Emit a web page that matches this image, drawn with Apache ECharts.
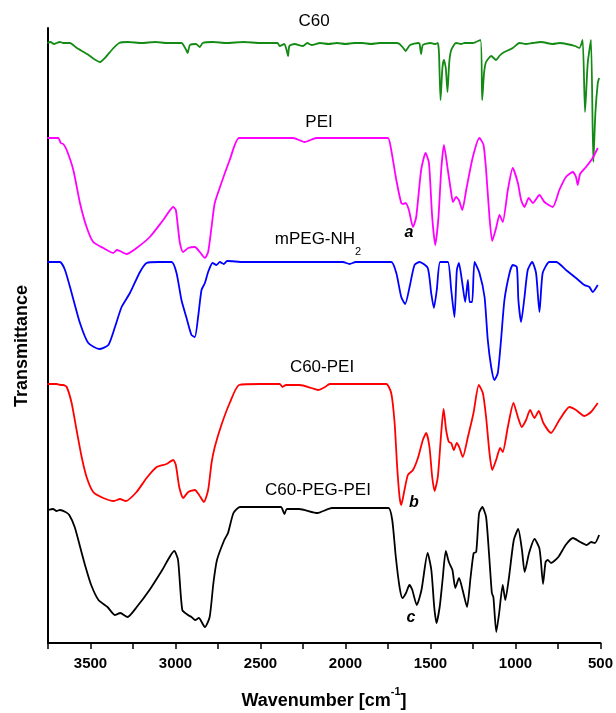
<!DOCTYPE html>
<html>
<head>
<meta charset="utf-8">
<script src="https://cdn.jsdelivr.net/npm/echarts@6/dist/echarts.min.js"></script>
<style>
html,body{margin:0;padding:0;background:#fff;}
#chart{width:616px;height:713px;}
</style>
</head>
<body>
<div id="chart"></div>
<script>
// Wavenumber [cm-1] vs transmittance (arbitrary offset units, spectra stacked)
var c60 = [[3754,600],[3735,601],[3715,599],[3700,600],[3680,601],[3660,600],[3621,600],[3580,595],[3520,589],[3480,584],[3444,581],[3410,586],[3370,594],[3331,600],[3280,601],[3200,600],[3120,601],[3050,600],[2965,600],[2940,594],[2929,590],[2915,598],[2880,599],[2857,596],[2840,600],[2780,601],[2700,600],[2600,601],[2500,600],[2400,600],[2387,597],[2360,599],[2345,592],[2338,587],[2330,597],[2300,599],[2250,597],[2225,600],[2200,598],[2150,600],[2100,599],[2050,600],[2000,599],[1950,600],[1900,600],[1850,599],[1800,600],[1750,600],[1700,600],[1682,599],[1660,595],[1647,592],[1620,598],[1570,600],[1564,599],[1555,589],[1545,598],[1500,600],[1470,599],[1457,600],[1450,590],[1441,543],[1430,575],[1421,583],[1410,575],[1400,551],[1390,580],[1378,593],[1350,600],[1320,599],[1300,600],[1250,600],[1206,603],[1196,543],[1185,570],[1173,581],[1143,587],[1114,583],[1095,587],[1075,590],[1016,595],[977,600],[940,599],[900,600],[850,601],[781,599],[740,600],[700,599],[650,597],[624,595],[605,603],[591,531],[575,580],[556,603],[542,481],[530,530],[516,560],[508,565]];
var pei = [[3754,505],[3700,505],[3689,505],[3675,500],[3660,499],[3640,493],[3601,473],[3562,440],[3523,416],[3484,401],[3425,395],[3366,390],[3345,393],[3327,392],[3288,389],[3229,395],[3151,406],[3072,423],[3013,436],[2998,433],[2985,415],[2974,400],[2955,391],[2925,395],[2886,396],[2857,391],[2827,385],[2808,391],[2788,416],[2769,440],[2730,460],[2681,483],[2626,505],[2500,505],[2400,505],[2308,505],[2240,501],[2171,505],[2000,505],[1800,505],[1750,505],[1731,493],[1701,463],[1672,440],[1660,439],[1647,440],[1627,433],[1603,416],[1584,426],[1555,473],[1529,490],[1509,480],[1490,426],[1472,398],[1453,426],[1437,473],[1421,498],[1398,473],[1378,450],[1368,441],[1349,446],[1333,443],[1313,433],[1290,453],[1251,486],[1212,505],[1188,498],[1173,473],[1153,426],[1137,402],[1114,415],[1094,428],[1075,421],[1045,453],[1016,475],[986,460],[967,443],[947,436],[922,445],[898,440],[859,448],[830,441],[781,436],[742,453],[703,466],[663,471],[644,466],[634,458],[620,469],[585,476],[546,485],[516,495]];
var mpeg = [[3754,381],[3680,381],[3650,373],[3611,350],[3562,320],[3513,300],[3448,294],[3395,298],[3356,316],[3317,336],[3268,350],[3209,371],[3170,380],[3100,381],[3023,381],[2994,370],[2965,343],[2935,325],[2906,308],[2886,306],[2867,326],[2847,353],[2827,360],[2808,371],[2782,380],[2759,378],[2739,381],[2716,379],[2696,382],[2600,381],[2400,381],[2015,381],[1976,379],[1940,381],[1731,381],[1701,370],[1672,346],[1649,339],[1623,356],[1594,378],[1564,381],[1516,375],[1496,350],[1480,335],[1463,353],[1443,381],[1398,381],[1378,353],[1359,326],[1345,373],[1333,380],[1313,360],[1296,341],[1280,363],[1270,341],[1255,341],[1241,381],[1212,370],[1182,346],[1163,303],[1143,276],[1124,263],[1104,270],[1085,303],[1065,343],[1035,370],[1016,378],[992,376],[983,343],[967,321],[947,346],[928,373],[902,381],[879,370],[859,331],[840,370],[801,381],[761,381],[703,373],[644,365],[595,358],[565,356],[546,351],[516,358]];
var c60pei = [[3754,259],[3700,259],[3670,258],[3660,258],[3640,256],[3611,240],[3582,213],[3552,186],[3523,166],[3484,151],[3425,145],[3362,142],[3327,144],[3292,142],[3229,151],[3170,165],[3111,176],[3053,179],[3013,183],[2998,178],[2978,156],[2955,145],[2925,151],[2886,153],[2861,148],[2833,141],[2808,153],[2788,180],[2769,196],[2730,218],[2681,240],[2626,258],[2500,259],[2387,259],[2371,256],[2350,258],[2269,258],[2200,255],[2161,253],[2120,256],[2093,259],[1900,259],[1760,259],[1731,250],[1711,220],[1696,176],[1682,146],[1672,138],[1653,153],[1633,168],[1603,173],[1574,185],[1545,203],[1525,210],[1506,196],[1490,166],[1476,152],[1457,166],[1437,210],[1423,234],[1408,213],[1392,201],[1378,200],[1363,193],[1345,200],[1329,195],[1310,186],[1280,206],[1247,230],[1216,258],[1192,250],[1173,226],[1153,190],[1137,173],[1114,183],[1090,195],[1075,191],[1045,216],[1012,240],[986,226],[963,216],[938,223],[914,233],[889,225],[863,232],[836,220],[791,210],[742,223],[683,236],[644,233],[595,227],[556,231],[516,240]];
var c60pegpei = [[3750,133],[3720,134],[3700,132],[3680,133],[3647,131],[3625,128],[3593,116],[3561,96],[3529,76],[3496,58],[3453,43],[3400,36],[3357,28],[3325,30],[3282,26],[3228,36],[3153,53],[3078,73],[3007,92],[2985,83],[2960,33],[2927,28],[2906,26],[2884,23],[2863,25],[2827,16],[2799,26],[2777,60],[2756,83],[2713,103],[2691,110],[2659,130],[2621,136],[2500,136],[2380,136],[2359,129],[2345,134],[2273,134],[2165,130],[2080,135],[1900,135],[1747,135],[1725,123],[1704,86],[1682,56],[1665,45],[1644,50],[1624,58],[1607,53],[1581,38],[1553,53],[1517,90],[1495,73],[1478,36],[1465,20],[1446,36],[1429,63],[1410,92],[1392,81],[1371,73],[1354,55],[1332,65],[1311,53],[1285,36],[1264,66],[1246,90],[1231,91],[1214,130],[1195,136],[1173,126],[1156,90],[1139,50],[1130,46],[1113,11],[1096,30],[1075,58],[1060,43],[1038,66],[1010,103],[984,114],[962,93],[946,71],[920,90],[888,104],[860,95],[851,83],[838,59],[823,81],[810,83],[791,80],[748,86],[705,98],[662,105],[619,101],[581,98],[555,101],[533,100],[508,108]];

var seriesNames = ['C60','PEI','mPEG-NH2','C60-PEI','C60-PEG-PEI'];
var seriesColors = ['#138a13','#ff00ff','#0000ff','#ff0000','#000000'];
var seriesData = [c60, pei, mpeg, c60pei, c60pegpei];
var xMin = 500, xMax = 3750, xStep = 250, xLabelStep = 500;

var FONT = 'Arial, "Liberation Sans", sans-serif';
var chart = echarts.init(document.getElementById('chart'));
var series = seriesData.map(function (d, i) {
  return {
    name: seriesNames[i], type: 'line', data: d, symbol: 'none', smooth: 0.2,
    lineStyle: { color: seriesColors[i], width: 1.8 }, animation: false
  };
});
function txt(x, y, text, size, weight, style, extra) {
  var s = { text: text, x: x, y: y, fill: '#000', font: (style || 'normal') + ' ' + (weight || 'normal') + ' ' + size + 'px ' + FONT,
    textAlign: 'center', textVerticalAlign: 'middle', align: 'center', verticalAlign: 'middle' };
  if (extra) for (var k in extra) s[k] = extra[k];
  return { type: 'text', style: s, z: 100 };
}
chart.setOption({
  backgroundColor: '#fff',
  animation: false,
  grid: { left: 48, right: 15, top: 28, bottom: 70 },
  xAxis: {
    type: 'value', inverse: true, min: xMin, max: xMax, interval: xStep,
    axisLine: { show: true, onZero: false, lineStyle: { color: '#000', width: 2 } },
    axisTick: { show: true, length: 6, inside: false, lineStyle: { color: '#000', width: 1.5 } },
    axisLabel: { fontFamily: FONT, fontSize: 15, fontWeight: 'bold', color: '#000', margin: 13,
      formatter: function (v) { return (v % xLabelStep === 0) ? String(v) : ''; } },
    splitLine: { show: false }
  },
  yAxis: {
    type: 'value', min: 0, max: 615,
    axisLine: { show: true, lineStyle: { color: '#000', width: 2 } },
    axisTick: { show: false }, axisLabel: { show: false }, splitLine: { show: false }
  },
  series: series,
  graphic: [
    txt(314, 21, 'C60', 17),
    txt(319, 122, 'PEI', 17),
    txt(318, 244, '{n|mPEG-NH}{s|2}', 17, null, null, { rich: { n: { fontSize: 17, fontFamily: FONT, lineHeight: 26, verticalAlign: 'top' }, s: { fontSize: 11, fontFamily: FONT, lineHeight: 26, verticalAlign: 'bottom' } } }),
    txt(322, 367, 'C60-PEI', 17),
    txt(318, 490, 'C60-PEG-PEI', 17),
    txt(409, 233, 'a', 16, 'bold', 'italic'),
    txt(414, 503, 'b', 16, 'bold', 'italic'),
    txt(411, 618, 'c', 16, 'bold', 'italic'),
    { type: 'text', x: 22, y: 346, rotation: Math.PI / 2, z: 100,
      style: { text: 'Transmittance', fill: '#000', font: 'bold 18px ' + FONT, textAlign: 'center', textVerticalAlign: 'middle', align: 'center', verticalAlign: 'middle' } },
    txt(324, 698, '{b|Wavenumber [cm}{s|-1}{b|]}', 18, 'bold', null, { rich: { b: { fontSize: 18, fontWeight: 'bold', fontFamily: FONT, lineHeight: 24, verticalAlign: 'bottom' }, s: { fontSize: 11, fontWeight: 'bold', fontFamily: FONT, lineHeight: 24, verticalAlign: 'top' } } })
  ]
});
</script>
</body>
</html>
